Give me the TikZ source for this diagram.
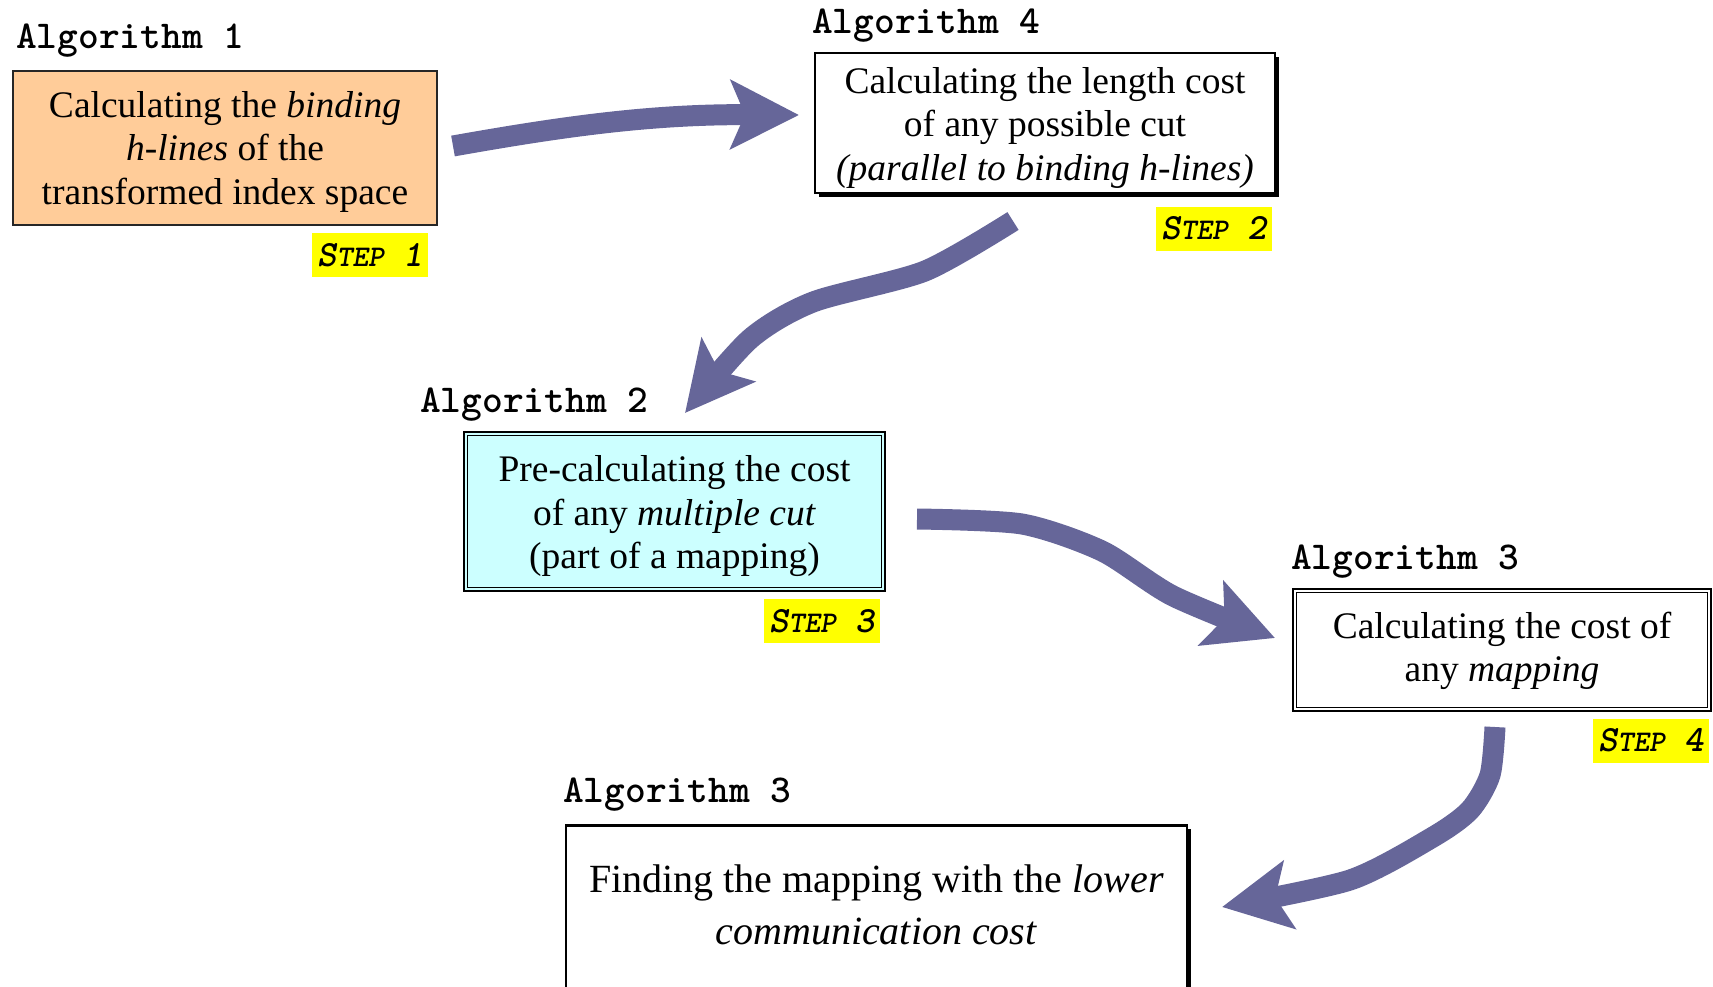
\documentclass[tikz,border=0pt]{standalone}
\usepackage{fontspec}
\setmainfont{Liberation Serif}
\usetikzlibrary{arrows.meta,shadows}

\definecolor{arrowblue}{RGB}{102,102,153}
\definecolor{peach}{RGB}{255,204,153}
\definecolor{paleCyan}{RGB}{204,255,255}
\definecolor{stepyellow}{RGB}{255,255,0}

% "STEP n" in faked small capitals
\newcommand\stepmark[1]{{\fontsize{37}{37}\selectfont S}{\fontsize{30}{30}\selectfont TEP}{\fontsize{37}{37}\selectfont\ #1}}

\tikzset{
  boxtext/.style={align=center, inner sep=0pt, font=\fontsize{37.5}{43.5}\selectfont},
  plainbox/.style={draw=black, line width=2.5pt, fill=white, inner sep=0pt},
  shadowbox/.style={plainbox, drop shadow={shadow xshift=4pt, shadow yshift=-4pt, fill=black, opacity=1}},
  algolabel/.style={anchor=base west, inner sep=0pt, font=\ttfamily\bfseries\fontsize{39.5}{39.5}\selectfont},
  steplabel/.style={fill=stepyellow, inner sep=0pt, minimum width=116pt, minimum height=44pt, font=\ttfamily\bfseries\slshape},
  flow/.style={draw=arrowblue, line width=21pt, -{Stealth[length=68pt, width=68pt, inset=14pt]}},
  innerline/.style={line width=1.3pt},
}

\begin{document}
\begin{tikzpicture}[x=1pt,y=-1pt]
\useasboundingbox (0,0) rectangle (1713,986);
\clip (0,0) rectangle (1713,986);

% process boxes
\node[draw=black!85, line width=1.5pt, fill=peach, inner sep=0pt, minimum width=424pt, minimum height=154pt] (b1) at (225,148) {};
\node[boxtext] (t1) at ([yshift=-3.5pt]b1.center)
  {Calculating the \textit{binding}\\\textit{h-lines} of the\\transformed index space};

\node[shadowbox, minimum width=460pt, minimum height=140pt] (b4) at (1045,123) {};
\node[boxtext] (t4) at ([yshift=-4.5pt]b4.center)
  {Calculating the length cost\\of any possible cut\\\textit{(parallel to binding h-lines)}};

\node[plainbox, fill=paleCyan, minimum width=421pt, minimum height=159pt] (b2) at (674.5,511.5) {};
\draw[innerline] ([shift={(5,5)}]b2.north west) rectangle ([shift={(-5,-5)}]b2.south east);
\node[boxtext] (t2) at ([yshift=-5pt]b2.center)
  {Pre-calculating the cost\\of any \textit{multiple cut}\\(part of a mapping)};

\node[plainbox, minimum width=418pt, minimum height=122pt] (b3) at (1502,650) {};
\draw[innerline] ([shift={(5,5)}]b3.north west) rectangle ([shift={(-5,-5)}]b3.south east);
\node[boxtext] (t3) at ([yshift=-1pt]b3.center)
  {Calculating the cost of\\any \textit{mapping}};

\node[shadowbox, minimum width=621pt, minimum height=163pt, anchor=north] (b5) at (876.5,824) {};
\node[boxtext, font=\fontsize{40}{52}\selectfont] (t5) at ([yshift=2pt]b5.center)
  {Finding the mapping with the \textit{lower}\\\textit{communication cost}};

% algorithm captions
\node[algolabel] (l1) at (16,48) {Algorithm 1};
\node[algolabel] (l4) at (812,33) {Algorithm 4};
\node[algolabel] (l2) at (420,412) {Algorithm 2};
\node[algolabel] (l3) at (1291,569) {Algorithm 3};
\node[algolabel] (l5) at (563,802) {Algorithm 3};

% step tags
\node[steplabel] (s1) at (370,255) {\stepmark{1}};
\node[steplabel] (s2) at (1214,228.5) {\stepmark{2}};
\node[steplabel] (s3) at (822,621) {\stepmark{3}};
\node[steplabel] (s4) at (1651,740.5) {\stepmark{4}};

% arrow end points
\coordinate (a1s) at (453,146);
\coordinate (a1e) at (799,115);
\coordinate (a2s) at (1013,221);
\coordinate (a2e) at (685,413);
\coordinate (a3s) at (917,519);
\coordinate (a3e) at (1275,638);
\coordinate (a4s) at (1495,727);
\coordinate (a4e) at (1222,907);

% flow arrows
\draw[flow] (a1s) .. controls (560,127) and (650,114) .. (a1e);
\draw[flow] plot[smooth, tension=0.45] coordinates {(a2s) (925,271) (813,302) (750,339) (a2e)};
\draw[flow] plot[smooth, tension=0.45] coordinates {(a3s) (1022,524) (1102,551) (1173,596) (a3e)};
\draw[flow] plot[smooth, tension=0.45] coordinates {(a4s) (1490,775) (1470,810) (1433,837) (1350,880) (a4e)};
\end{tikzpicture}
\end{document}
